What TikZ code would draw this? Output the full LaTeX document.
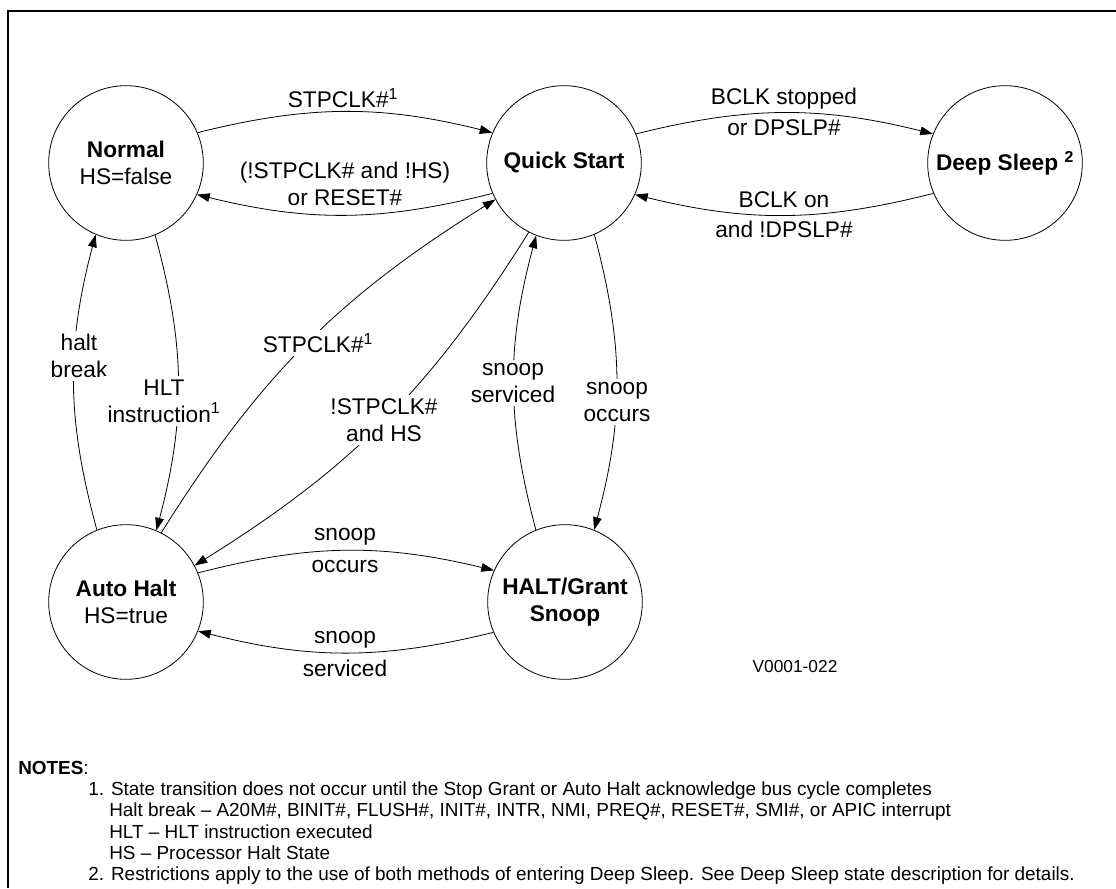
\documentclass[tikz,border=0pt]{standalone}
\usepackage{fontspec}
\setmainfont{Liberation Sans}
\usetikzlibrary{arrows.meta}

\begin{document}
\begin{tikzpicture}[x=0.75pt, y=-0.75pt]
\tikzset{etat/.style={draw, circle, line width=0.6pt, minimum size=116pt, inner sep=0pt, align=center, font=\fontsize{17}{20.25}\selectfont},
  etiq/.style={align=center, inner sep=2.5pt, font=\fontsize{17}{20.25}\selectfont},
  coupe/.style={etiq, fill=white},
  fleche/.style={line width=0.6pt, -{Triangle[length=9.5pt, width=6.5pt]}},
  note/.style={anchor=base west, inner sep=0pt, font=\fontsize{14.2}{16}\selectfont}}
\useasboundingbox (0,0) rectangle (1116,888);
\draw[line width=1.6pt] (1116,11) -- (8,11) -- (8,888);
\node[etat] (Norm) at (126,163) {\textbf{Normal}\\HS=false};
\node[etat] (QS) at (564,163) {\textbf{Quick Start}};
\node[etat] (DS) at (1005,163) {\textbf{Deep Sleep \textsuperscript{2}}};
\node[etat] (AH) at (126,602) {\textbf{Auto Halt}\\HS=true};
\node[etat] (HG) at (565,602) {\textbf{HALT/Grant}\\\textbf{Snoop}};
\draw[fleche] (Norm.23) to[bend left=14] (QS.157);
\draw[fleche] (QS.203) to[bend left=14] (Norm.336);
\draw[fleche] (QS.22) to[bend left=14] (DS.158);
\draw[fleche] (DS.203) to[bend left=14] (QS.336);
\draw[fleche] (AH.112) to[bend left=15] (Norm.247);
\draw[fleche] (Norm.292) to[bend left=15] (AH.67);
\draw[fleche] (AH.63) to[bend left=13] (QS.208);
\draw[fleche] (QS.243) to[bend left=13] (AH.28);
\draw[fleche] (HG.112) to[bend left=15] (QS.249);
\draw[fleche] (QS.293) to[bend left=15] (HG.68);
\draw[fleche] (AH.22) to[bend left=14] (HG.156);
\draw[fleche] (HG.203) to[bend left=14] (AH.338);
\node[etiq] (l1) at (343,98) {STPCLK\#\textsuperscript{1}};
\node[etiq] (l2) at (345,184) {(!STPCLK\# and !HS)\\or RESET\#};
\node[etiq] (l3) at (784,112) {BCLK stopped\\[3pt]or DPSLP\#};
\node[etiq] (l4) at (784,215) {BCLK on\\[2.25pt]and !DPSLP\#};
\node[coupe] (l5) at (79,356) {halt\\break};
\node[coupe] (l6) at (164,401) {HLT\\instruction\textsuperscript{1}};
\node[coupe] (l7) at (318,343) {STPCLK\#\textsuperscript{1}};
\node[coupe] (l8) at (384,420) {!STPCLK\#\\and HS};
\node[coupe] (l9) at (513,383) {snoop\\serviced};
\node[coupe] (l10) at (617,402) {snoop\\occurs};
\node[etiq] (l11) at (345,551) {snoop\\[3.75pt]occurs};
\node[etiq] (l12) at (345,654) {snoop\\[4.5pt]serviced};
\node[etiq, font=\fontsize{13}{15}\selectfont] (ref) at (795,667) {V0001-022};
% notes
\node[note] (notes) at (18,774) {\textbf{NOTES}:};
\node[note] (n1) at (88,795) {1. State transition does not occur until the Stop Grant or Auto Halt acknowledge bus cycle completes};
\node[note] (n2) at (109,816.5) {Halt break – A20M\#, BINIT\#, FLUSH\#, INIT\#, INTR, NMI, PREQ\#, RESET\#, SMI\#, or APIC interrupt};
\node[note] (n3) at (109,838) {HLT – HLT instruction executed};
\node[note] (n4) at (109,859) {HS – Processor Halt State};
\node[note] (n5) at (88,880) {2. Restrictions apply to the use of both methods of entering Deep Sleep. See Deep Sleep state description for details.};
\end{tikzpicture}
\end{document}
